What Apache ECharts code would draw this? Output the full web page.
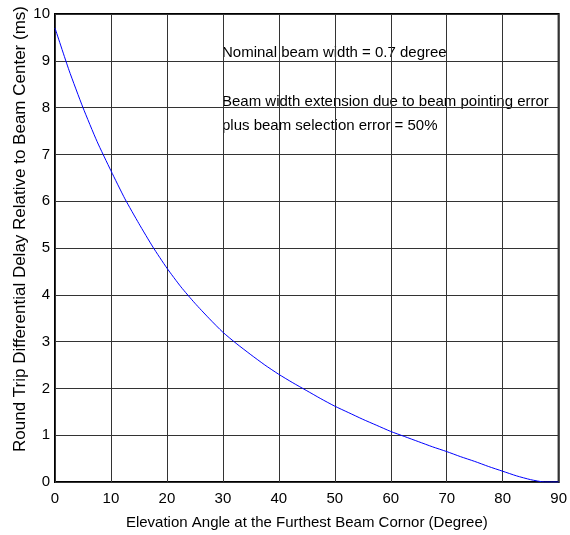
<!DOCTYPE html>
<html>
<head>
<meta charset="utf-8">
<script src="https://cdn.jsdelivr.net/npm/echarts@6/dist/echarts.min.js"></script>
<style>
  html, body { margin: 0; padding: 0; background: #fff; }
  #chart { width: 570px; height: 535px; }
</style>
</head>
<body>
<div id="chart"></div>
<script>
// elevation angle (deg) and differential delay (ms)
var angles = [0, 2.5, 5, 7.5, 10, 12.5, 15, 17.5, 20, 22.5, 25, 27.5, 30, 32.5, 35, 37.5, 40, 42.5, 45,
              47.5, 50, 52.5, 55, 57.5, 60, 62.5, 65, 67.5, 70, 72.5, 75, 77.5, 80, 82.5, 85, 87.5, 90];
var delays = [9.70, 8.80, 8.00, 7.28, 6.65, 6.05, 5.52, 5.02, 4.57, 4.17, 3.82, 3.50, 3.20, 2.95, 2.72, 2.50, 2.30, 2.12, 1.95,
              1.78, 1.62, 1.48, 1.34, 1.21, 1.08, 0.97, 0.86, 0.75, 0.65, 0.54, 0.44, 0.33, 0.23, 0.13, 0.05, 0.0, 0.0];

var notes = [
    'Nominal beam width = 0.7 degree',
    'Beam width extension due to beam pointing error',
    'plus beam selection error = 50%'
];

var xTitle = 'Elevation Angle at the Furthest Beam Cornor (Degree)';
var yTitle = 'Round Trip Differential Delay Relative to Beam Center (ms)';

var chart = echarts.init(document.getElementById('chart'));

var points = angles.map(function (a, i) { return [a, delays[i]]; });

var font = 'Liberation Sans, Arial, sans-serif';

function note(text, y) {
    return {
        type: 'text', x: 222, y: y,
        style: { text: text, fontSize: 15, fill: '#000', fontFamily: font, verticalAlign: 'middle' }
    };
}

var option = {
    animation: false,
    textStyle: { fontFamily: font },
    grid: {
        left: 55, right: 10, top: 14, bottom: 51,
        show: true,
        borderColor: '#000',
        borderWidth: 2
    },
    xAxis: {
        type: 'value',
        min: 0, max: 90, interval: 10,
        name: xTitle,
        nameLocation: 'middle',
        nameGap: 33,
        nameTextStyle: { color: '#000', fontSize: 15, fontFamily: font },
        axisLine: { show: false },
        axisTick: { show: false },
        axisLabel: { color: '#000', fontSize: 15, margin: 9, fontFamily: font },
        splitLine: { show: true, lineStyle: { color: '#333', width: 1 } }
    },
    yAxis: {
        type: 'value',
        min: 0, max: 10, interval: 1,
        axisLine: { show: false },
        axisTick: { show: false },
        axisLabel: { color: '#000', fontSize: 15, margin: 5, fontFamily: font },
        splitLine: { show: true, lineStyle: { color: '#333', width: 1 } }
    },
    graphic: [
        note(notes[0], 53),
        note(notes[1], 102),
        note(notes[2], 126),
        {
            type: 'text', x: 20, y: 229, rotation: Math.PI / 2,
            style: { text: yTitle, fontSize: 17, fill: '#000', fontFamily: font, align: 'center', verticalAlign: 'middle' }
        }
    ],
    series: [
        {
            type: 'line',
            data: points,
            smooth: 0.2,
            showSymbol: false,
            lineStyle: { color: '#0000ff', width: 1 }
        }
    ]
};

chart.setOption(option);
</script>
</body>
</html>
